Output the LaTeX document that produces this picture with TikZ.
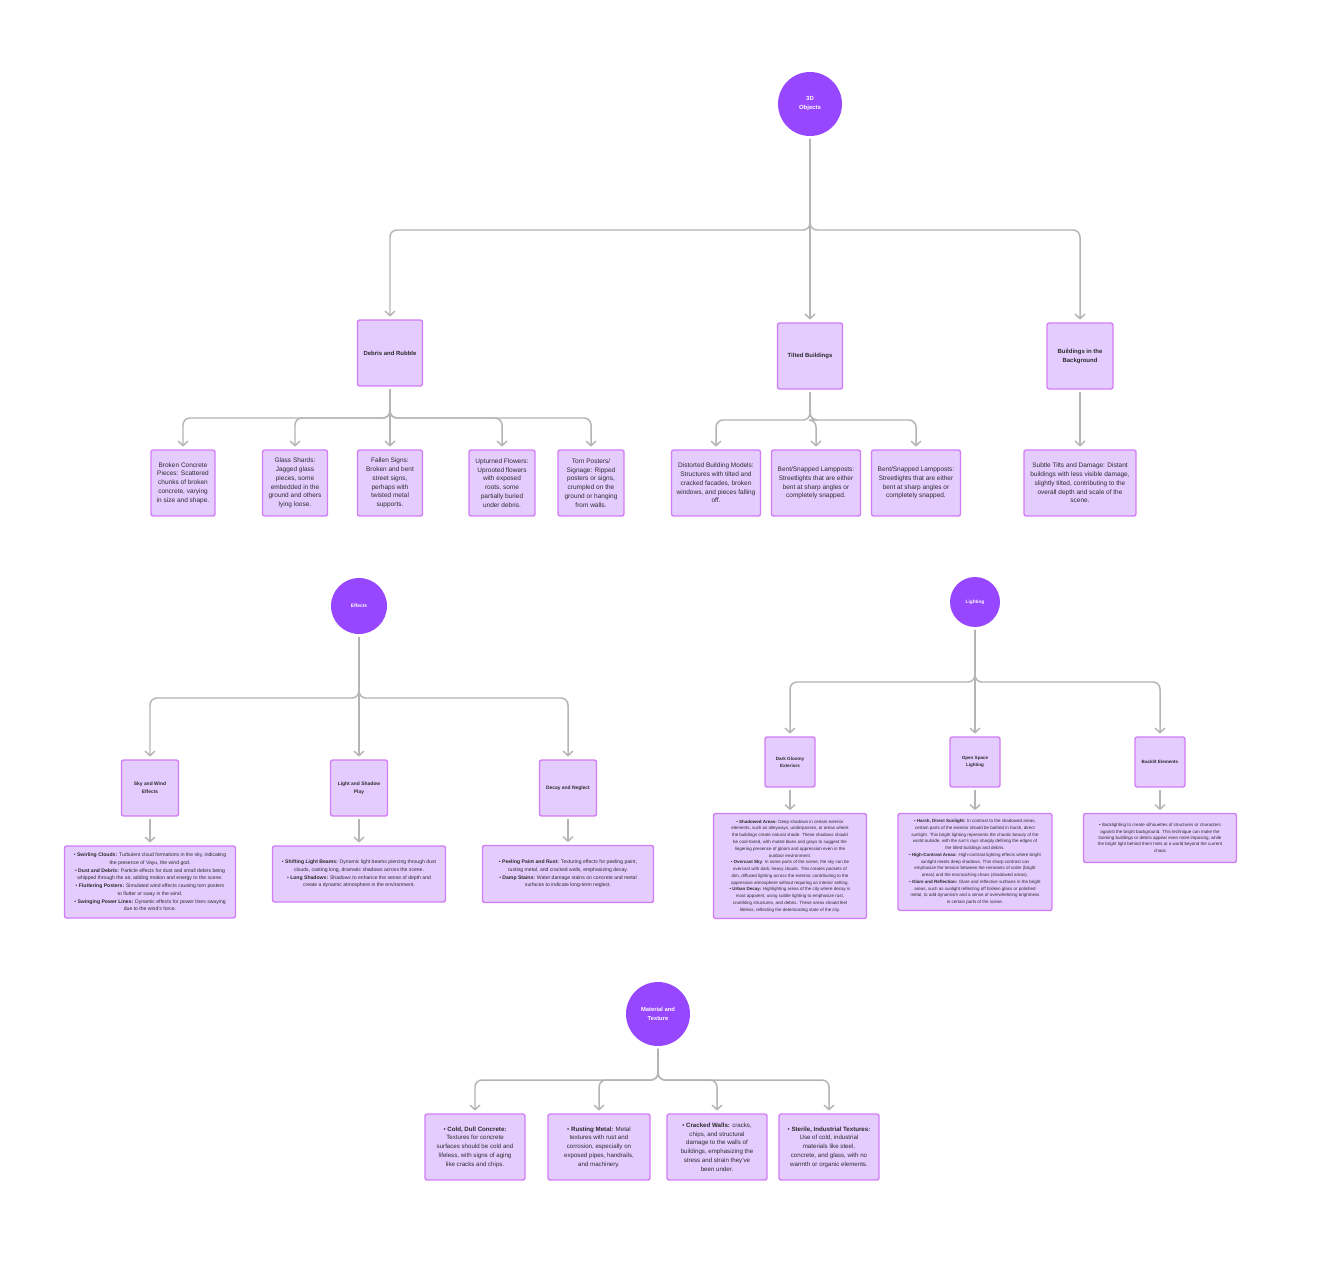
\documentclass[tikz,border=0pt]{standalone}
\usepackage{fontspec}
\setmainfont{Liberation Sans}
\usetikzlibrary{arrows.meta}

\definecolor{topicpurple}{HTML}{9747FF}
\definecolor{boxfill}{HTML}{E4CCFF}
\definecolor{boxline}{HTML}{D27CF6}
\definecolor{linegray}{HTML}{B5B5B5}
\definecolor{textdark}{HTML}{2C2C2C}

\newcommand{\fs}[2]{\fontsize{#1}{#2}\selectfont}

\tikzstyle{arrow} = [
        draw=linegray,
        line width=0.85pt,
        rounded corners=4pt,
        -{Straight Barb[length=2.6pt,width=5.6pt]},
        shorten >=1.5pt,
        shorten <=1.5pt,
    ]
\tikzstyle{topic} = [
        circle,
        fill=topicpurple,
        text=white,
        align=center,
        inner sep=0pt,
    ]
\tikzstyle{subbox} = [
        rectangle,
        rounded corners=1.2pt,
        fill=boxfill,
        draw=boxline,
        line width=0.8pt,
        align=center,
        text=textdark,
        inner sep=1pt,
    ]
\tikzstyle{leafbox} = [
        subbox,
    ]

\begin{document}
\begin{tikzpicture}[x=0.02cm, y=-0.02cm]
            \useasboundingbox (0,0) rectangle (1330,1264);
            \fill [white] (0,0) rectangle (1330,1264);

            % 3D objects
            \node [topic, minimum size=1.28cm, font=\bfseries\fs{3.4}{5.1}] (objects) at (810,104) {3D\\Objects};
            \node [subbox, minimum width=1.3cm, minimum height=1.32cm, font=\bfseries\fs{3.4}{5.1}] (debris) at (390,353) {Debris and Rubble};
            \node [subbox, minimum width=1.3cm, minimum height=1.32cm, font=\bfseries\fs{3.4}{5.1}] (tilted) at (810,356) {Tilted Buildings};
            \node [subbox, minimum width=1.32cm, minimum height=1.32cm, font=\bfseries\fs{3.4}{5.1}] (background) at (1080,356) {Buildings in the\\Background};

            \node [leafbox, minimum width=1.28cm, minimum height=1.32cm, font=\fs{3.7}{5}] (concrete) at (183,483) {Broken Concrete\\Pieces: Scattered\\chunks of broken\\concrete, varying\\in size and shape.};
            \node [leafbox, minimum width=1.3cm, minimum height=1.32cm, font=\fs{3.7}{5}] (glass) at (295,483) {Glass Shards:\\Jagged glass\\pieces, some\\embedded in the\\ground and others\\lying loose.};
            \node [leafbox, minimum width=1.3cm, minimum height=1.32cm, font=\fs{3.7}{5}] (signs) at (390,483) {Fallen Signs:\\Broken and bent\\street signs,\\perhaps with\\twisted metal\\supports.};
            \node [leafbox, minimum width=1.32cm, minimum height=1.32cm, font=\fs{3.7}{5}] (flowers) at (502,483) {Upturned Flowers:\\Uprooted flowers\\with exposed\\roots, some\\partially buried\\under debris.};
            \node [leafbox, minimum width=1.32cm, minimum height=1.32cm, font=\fs{3.7}{5}] (posters) at (591,483) {Torn Posters/\\Signage: Ripped\\posters or signs,\\crumpled on the\\ground or hanging\\from walls.};
            \node [leafbox, minimum width=1.78cm, minimum height=1.32cm, font=\fs{3.7}{5}] (distorted) at (716,483) {Distorted Building Models:\\Structures with tilted and\\cracked facades, broken\\windows, and pieces falling\\off.};
            \node [leafbox, minimum width=1.78cm, minimum height=1.32cm, font=\fs{3.7}{5}] (lampa) at (816,483) {Bent/Snapped Lampposts:\\Streetlights that are either\\bent at sharp angles or\\completely snapped.};
            \node [leafbox, minimum width=1.78cm, minimum height=1.32cm, font=\fs{3.7}{5}] (lampb) at (916,483) {Bent/Snapped Lampposts:\\Streetlights that are either\\bent at sharp angles or\\completely snapped.};
            \node [leafbox, minimum width=2.24cm, minimum height=1.32cm, font=\fs{3.7}{5}] (subtle) at (1080,483) {Subtle Tilts and Damage: Distant\\buildings with less visible damage,\\slightly tilted, contributing to the\\overall depth and scale of the\\scene.};

            \draw [arrow] (objects) -- (objects |- 0,230) -| (debris);
            \draw [arrow] (objects) -- (tilted);
            \draw [arrow] (objects) -- (objects |- 0,230) -| (background);
            \draw [arrow] (debris) -- (debris |- 0,418) -| (concrete);
            \draw [arrow] (debris) -- (debris |- 0,418) -| (glass);
            \draw [arrow] (debris) -- (signs);
            \draw [arrow] (debris) -- (debris |- 0,418) -| (flowers);
            \draw [arrow] (debris) -- (debris |- 0,418) -| (posters);
            \draw [arrow] (tilted) -- (tilted |- 0,420) -| (distorted);
            \draw [arrow] (tilted) -- (tilted |- 0,420) -| (lampa);
            \draw [arrow] (tilted) -- (tilted |- 0,420) -| (lampb);
            \draw [arrow] (background) -- (subtle);

            % effects
            \node [topic, minimum size=1.12cm, font=\bfseries\fs{2.8}{4.2}] (effects) at (359,606) {Effects};
            \node [subbox, minimum width=1.14cm, minimum height=1.12cm, font=\bfseries\fs{2.8}{4.5}] (wind) at (150,788) {Sky and Wind\\Effects};
            \node [subbox, minimum width=1.14cm, minimum height=1.12cm, font=\bfseries\fs{2.8}{4.5}] (shadow) at (359,788) {Light and Shadow\\Play};
            \node [subbox, minimum width=1.14cm, minimum height=1.12cm, font=\bfseries\fs{2.8}{4.5}] (decay) at (568,788) {Decay and Neglect};

            \node [leafbox, minimum width=3.42cm, minimum height=1.44cm, font=\fs{2.9}{4.4}] (windleaf) at (150,882) {\textbullet\ \textbf{Swirling Clouds:} Turbulent cloud formations in the sky, indicating\\the presence of Vayu, the wind god.\\\textbullet\ \textbf{Dust and Debris:} Particle effects for dust and small debris being\\whipped through the air, adding motion and energy to the scene.\\\textbullet\ \textbf{Fluttering Posters:} Simulated wind effects causing torn posters\\to flutter or sway in the wind.\\\textbullet\ \textbf{Swinging Power Lines:} Dynamic effects for power lines swaying\\due to the wind's force.};
            \node [leafbox, minimum width=3.46cm, minimum height=1.12cm, font=\fs{2.9}{4.4}] (shadowleaf) at (359,874) {\textbullet\ \textbf{Shifting Light Beams:} Dynamic light beams piercing through dust\\clouds, casting long, dramatic shadows across the scene.\\\textbullet\ \textbf{Long Shadows:} Shadows to enhance the sense of depth and\\create a dynamic atmosphere in the environment.};
            \node [leafbox, minimum width=3.42cm, minimum height=1.14cm, font=\fs{2.9}{4.4}] (decayleaf) at (568,874) {\textbullet\ \textbf{Peeling Paint and Rust:} Texturing effects for peeling paint,\\rusting metal, and cracked walls, emphasizing decay.\\\textbullet\ \textbf{Damp Stains:} Water damage stains on concrete and metal\\surfaces to indicate long-term neglect.};

            \draw [arrow] (effects) -- (effects |- 0,698) -| (wind);
            \draw [arrow] (effects) -- (shadow);
            \draw [arrow] (effects) -- (effects |- 0,698) -| (decay);
            \draw [arrow] (wind) -- (windleaf);
            \draw [arrow] (shadow) -- (shadowleaf);
            \draw [arrow] (decay) -- (decayleaf);

            % lighting
            \node [topic, minimum size=1cm, font=\bfseries\fs{2.7}{4}] (lighting) at (975,602) {Lighting};
            \node [subbox, minimum width=1cm, minimum height=1cm, font=\bfseries\fs{2.6}{4}] (gloomy) at (790,762) {Dark Gloomy\\Exteriors};
            \node [subbox, minimum width=1cm, minimum height=1cm, font=\bfseries\fs{2.6}{4}] (openspace) at (975,762) {Open Space\\Lighting};
            \node [subbox, minimum width=1cm, minimum height=1cm, font=\bfseries\fs{2.6}{4}] (backlit) at (1160,762) {Backlit Elements};

            \node [leafbox, minimum width=3.06cm, minimum height=2.1cm, font=\fs{2.55}{3.85}] (gloomyleaf) at (790,866) {\textbullet\ \textbf{Shadowed Areas:} Deep shadows in certain exterior\\elements, such as alleyways, underpasses, or areas where\\the buildings create natural shade. These shadows should\\be cool-toned, with muted blues and grays to suggest the\\lingering presence of gloom and oppression even in the\\outdoor environment.\\\textbullet\ \textbf{Overcast Sky}: In some parts of the scene, the sky can be\\overcast with dark, heavy clouds. This creates pockets of\\dim, diffused lighting across the exterior, contributing to the\\oppressive atmosphere without requiring an interior setting.\\\textbullet\ \textbf{Urban Decay:} Highlighting areas of the city where decay is\\most apparent, using subtle lighting to emphasize rust,\\crumbling structures, and debris. These areas should feel\\lifeless, reflecting the deteriorating state of the city.};
            \node [leafbox, minimum width=3.08cm, minimum height=1.94cm, font=\fs{2.55}{3.85}] (openleaf) at (975,862) {\textbullet\ \textbf{Harsh, Direct Sunlight:} In contrast to the shadowed areas,\\certain parts of the exterior should be bathed in harsh, direct\\sunlight. This bright lighting represents the chaotic beauty of the\\world outside, with the sun's rays sharply defining the edges of\\the tilted buildings and debris.\\\textbullet\ \textbf{High-Contrast Areas:} High-contrast lighting effects where bright\\sunlight meets deep shadows. This sharp contrast can\\emphasize the tension between the remnants of order (bright\\areas) and the encroaching chaos (shadowed areas).\\\textbullet\ \textbf{Glare and Reflection:} Glare and reflective surfaces in the bright\\areas, such as sunlight reflecting off broken glass or polished\\metal, to add dynamism and a sense of overwhelming brightness\\in certain parts of the scene.};
            \node [leafbox, minimum width=3.06cm, minimum height=0.98cm, font=\fs{2.55}{3.6}] (backlitleaf) at (1160,838) {\textbullet\ Backlighting to create silhouettes of structures or characters\\against the bright background. This technique can make the\\looming buildings or debris appear even more imposing, while\\the bright light behind them hints at a world beyond the current\\chaos};

            \draw [arrow] (lighting) -- (lighting |- 0,682) -| (gloomy);
            \draw [arrow] (lighting) -- (openspace);
            \draw [arrow] (lighting) -- (lighting |- 0,682) -| (backlit);
            \draw [arrow] (gloomy) -- (gloomyleaf);
            \draw [arrow] (openspace) -- (openleaf);
            \draw [arrow] (backlit) -- (backlitleaf);

            % material and texture
            \node [topic, minimum size=1.28cm, font=\bfseries\fs{3.3}{5}] (material) at (658,1014) {Material and\\Texture};
            \node [leafbox, minimum width=2cm, minimum height=1.32cm, font=\fs{3.5}{5}] (concretetex) at (475,1147) {\textbullet\ \textbf{Cold, Dull Concrete:}\\Textures for concrete\\surfaces should be cold and\\lifeless, with signs of aging\\like cracks and chips.};
            \node [leafbox, minimum width=2.04cm, minimum height=1.32cm, font=\fs{3.5}{5}] (metaltex) at (599,1147) {\textbullet\ \textbf{Rusting Metal:} Metal\\textures with rust and\\corrosion, especially on\\exposed pipes, handrails,\\and machinery.};
            \node [leafbox, minimum width=2cm, minimum height=1.32cm, font=\fs{3.5}{5}] (wallstex) at (717,1147) {\textbullet\ \textbf{Cracked Walls:} cracks,\\chips, and structural\\damage to the walls of\\buildings, emphasizing the\\stress and strain they've\\been under.};
            \node [leafbox, minimum width=2cm, minimum height=1.32cm, font=\fs{3.5}{5}] (steriletex) at (829,1147) {\textbullet\ \textbf{Sterile, Industrial Textures:}\\Use of cold, industrial\\materials like steel,\\concrete, and glass, with no\\warmth or organic elements.};

            \draw [arrow] (material) -- (material |- 0,1080) -| (concretetex);
            \draw [arrow] (material) -- (material |- 0,1080) -| (metaltex);
            \draw [arrow] (material) -- (material |- 0,1080) -| (wallstex);
            \draw [arrow] (material) -- (material |- 0,1080) -| (steriletex);
        \end{tikzpicture}
\end{document}
